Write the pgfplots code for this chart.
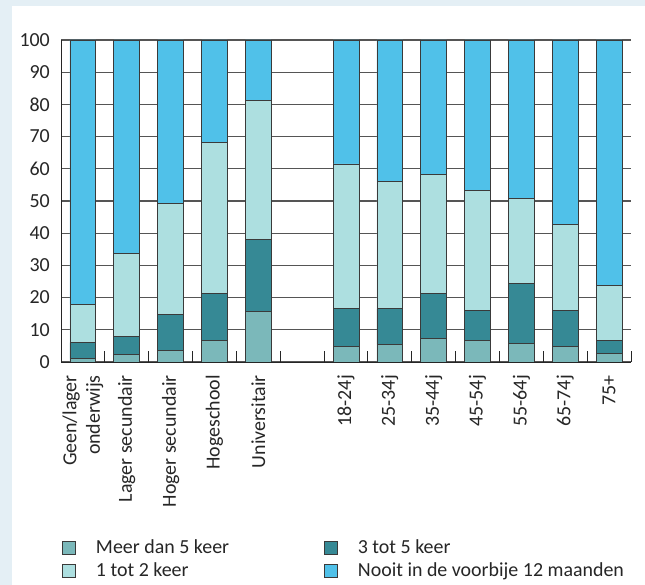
\documentclass[border=0pt]{standalone}
\usepackage{pgfplots}
\pgfplotsset{compat=1.18}
\usepackage{pgfplotstable}
\usepackage{fontspec}
\setmainfont{Carlito}
\setsansfont{Carlito}
\definecolor{bgblue}{HTML}{E4EFF5}
\definecolor{cMeer}{HTML}{7BB8BA}
\definecolor{cDrie}{HTML}{368995}
\definecolor{cEen}{HTML}{ADDFE0}
\definecolor{cNooit}{HTML}{50C1E9}
\definecolor{edge}{HTML}{3A3A3A}
\definecolor{gridc}{HTML}{555555}

\pgfplotstableread{
x meer drie een nooit
0 1.1 4.9 11.9 82.1
1 2.4 5.6 25.7 66.3
2 3.6 11.3 34.4 50.7
3 6.7 14.6 46.8 31.9
4 15.7 22.4 43.2 18.7
6 4.8 11.9 44.8 38.5
7 5.5 11.0 39.6 43.9
8 7.3 14.0 36.9 41.8
9 6.7 9.3 37.3 46.7
10 5.8 18.6 26.3 49.3
11 4.7 11.3 26.8 57.2
12 2.7 4.1 17.0 76.2
}\data

\newcommand{\myfont}{\fontsize{20}{23.5}\selectfont}

\begin{document}
\myfont
\begin{tikzpicture}
\fill[bgblue] (0,0) rectangle (645bp,585bp);
\fill[white] (12bp,0) rectangle (645bp,579bp);
\begin{axis}[
  at={(61bp,223bp)}, anchor=south west,
  scale only axis, width=570bp, height=322bp,
  ybar stacked, bar width=0.59,
  xmin=-0.5, xmax=12.5, ymin=0, ymax=100,
  axis x line*=bottom, axis y line*=left,
  axis line style={draw=black!85, line width=1bp},
  tick align=inside,
  major tick length=0pt,
  minor tick length=11bp,
  minor tick style={draw=black!85, line width=1bp},
  xtick={0,1,2,3,4,6,7,8,9,10,11,12},
  xticklabels={{Geen/lager\\onderwijs}, Lager secundair, Hoger secundair, Hogeschool, Universitair, 18-24j, 25-34j, 35-44j, 45-54j, 55-64j, 65-74j, 75+},
  minor xtick={0.5,1.5,2.5,3.5,4.5,5.5,6.5,7.5,8.5,9.5,10.5,11.5,12.5},
  ytick={0,10,20,30,40,50,60,70,80,90,100},
  ymajorgrids=true,
  major grid style={draw=gridc, line width=1.2bp},
  /pgf/number format/assume math mode=true,
  tick label style={font=\myfont, text=black!85},
  xticklabel style={yshift=-13bp, rotate=90, anchor=east, align=right, inner sep=0pt},
  yticklabel style={anchor=east, inner sep=0pt, xshift=-11bp},
  legend columns=2,
  legend cell align=left,
  legend image code/.code={\draw[#1] (0bp,-6.5bp) rectangle (13bp,6.5bp);},
  legend style={at={(0,0)}, anchor=north west, xshift=1bp, yshift=-177bp,
    draw=none, fill=none, inner sep=0pt, row sep=5bp, font=\myfont, text=black!85,
    nodes={inner sep=0pt, text height=14bp, text depth=4bp},
    /tikz/every odd column/.append style={column sep=20bp},
    /tikz/every even column/.append style={column sep=95bp}},
]
\addplot[fill=cMeer, draw=edge, line width=0.8bp] table[x=x, y=meer]{\data};
\addlegendentry{Meer dan 5 keer}
\addplot[fill=cDrie, draw=edge, line width=0.8bp] table[x=x, y=drie]{\data};
\addlegendentry{3 tot 5 keer}
\addplot[fill=cEen, draw=edge, line width=0.8bp] table[x=x, y=een]{\data};
\addlegendentry{1 tot 2 keer}
\addplot[fill=cNooit, draw=edge, line width=0.8bp] table[x=x, y=nooit]{\data};
\addlegendentry{Nooit in de voorbije 12 maanden}
\end{axis}
\pgfresetboundingbox
\path[use as bounding box] (0,0) rectangle (645bp,585bp);
\end{tikzpicture}
\end{document}
